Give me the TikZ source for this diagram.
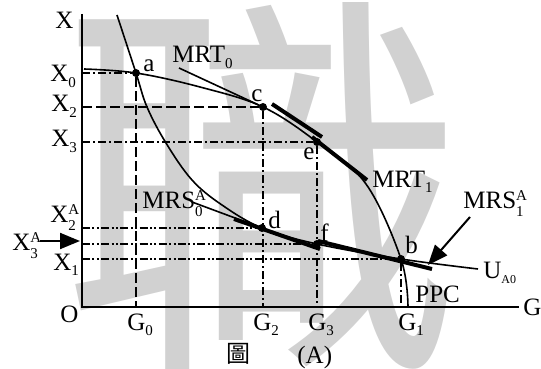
\documentclass[tikz,border=0pt]{standalone}
\usepackage{fontspec}
\setmainfont{Liberation Serif}
\newfontfamily\cjkfont{Noto Sans CJK TC}
\usetikzlibrary{arrows.meta}

\newcommand{\lo}[1]{\raisebox{-2.8pt}{\fontsize{7.5}{8}\selectfont #1}}
\newcommand{\hilo}[2]{\makebox[0pt][l]{\raisebox{3.6pt}{\fontsize{7.5}{8}\selectfont #1}}\raisebox{-4pt}{\fontsize{7.5}{8}\selectfont #2}}

\begin{document}
\begin{tikzpicture}[x=0.5pt,y=-0.5pt,
  axis/.style={line width=1pt},
  curve/.style={line width=0.8pt},
  tang/.style={line width=2pt},
  longdash/.style={line width=0.8pt,dash pattern=on 5pt off 2pt},
  dashdot/.style={line width=0.8pt,dash pattern=on 4pt off 1.5pt on 1pt off 1.5pt},
  dashdotdot/.style={line width=0.8pt,dash pattern=on 4pt off 1.2pt on 1pt off 1.2pt on 1pt off 1.2pt},
  lbl/.style={inner sep=0pt,anchor=base west,font=\fontsize{12.5}{14}\selectfont},
  pt/.style={circle,fill,inner sep=0pt,minimum size=4pt},
  bigarrow/.style={line width=1pt,-{Triangle[length=10pt,width=8pt]}}]
  \useasboundingbox (0,0) rectangle (541,369);
  % watermark
  \node[text=black!18,font=\cjkfont\fontsize{200}{200}\selectfont,inner sep=0pt] (mark) at (262,186) {職};

  % axes
  \coordinate (O) at (82,307);
  \coordinate (Xtop) at (82,14);
  \coordinate (Gend) at (519,307);
  \draw[axis] (Xtop) -- (O) -- (Gend);

  % points
  \node[pt] (a) at (136,73) {};
  \node[pt] (c) at (263,107) {};
  \node[pt] (e) at (317,142) {};
  \node[pt] (d) at (262,228) {};
  \node[pt] (f) at (317,244) {};
  \node[pt] (b) at (401,259) {};

  % guide lines
  \draw[dashdot] (a -| O) -- (a);
  \draw[longdash] (a) -- (a |- O);
  \draw[longdash] (c -| O) -- (c);
  \draw[dashdot] (c) -- (c |- O);
  \draw[dashdot] (e -| O) -- (e);
  \draw[dashdot] (e) -- (e |- O);
  \draw[dashdotdot] (d -| O) -- (d);
  \draw[dashdotdot] (f -| O) -- (f);
  \draw[dashdotdot] (b -| O) -- (b);
  \draw[dashdot] (b) -- (b |- O);

  % PPC and U_A0
  \draw[curve] plot[smooth,tension=0.6] coordinates
    {(84,69) (136,73) (200,87) (263,107) (317,142) (366,184) (401,259) (408,307)};
  \draw[curve] plot[smooth,tension=0.6] coordinates
    {(117,15) (136,73) (147,107) (166,143) (192,180) (222,205) (262,228) (317,244) (401,259) (478,269)};

  % tangents
  \coordinate (mrt0tail) at (179,68);
  \coordinate (mrt0a) at (272,104);
  \coordinate (mrt0b) at (322,137);
  \coordinate (mrt1a) at (312,137);
  \coordinate (mrt1b) at (367,180);
  \coordinate (mrs0a) at (234,219);
  \coordinate (mrs0b) at (320,249);
  \coordinate (mrs1a) at (318,241);
  \coordinate (mrs1b) at (432,269);
  \coordinate (mrs0tail) at (192,202);
  \draw[curve] (mrt0tail) -- (c);
  \draw[tang] (mrt0a) -- (mrt0b);
  \draw[tang] (mrt1a) -- (mrt1b);
  \draw[tang] (mrs0a) -- (mrs0b);
  \draw[tang] (mrs1a) -- (mrs1b);
  \draw[curve] (mrs0tail) -- (d);

  % arrows
  \coordinate (x3tail) at (40,241);
  \coordinate (x3tip) at (80,241);
  \coordinate (mrs1tail) at (470,217);
  \coordinate (mrs1tip) at (428,265);
  \draw[bigarrow] (x3tail) -- (x3tip);
  \draw[bigarrow] (mrs1tail) -- (mrs1tip);

  % labels
  \node[lbl] (lX) at (55,29) {X};
  \node[lbl] (lX0) at (50,82) {X\lo{0}};
  \node[lbl] (lX2) at (51,112) {X\lo{2}};
  \node[lbl] (lX3) at (51,147) {X\lo{3}};
  \node[lbl] (lX2A) at (50,222) {X\hilo{A}{2}};
  \node[lbl] (lX3A) at (12,250) {X\hilo{A}{3}};
  \node[lbl] (lX1) at (53,270) {X\lo{1}};
  \node[lbl] (lO) at (60,322) {O};
  \node[lbl] (lG0) at (127,330) {G\lo{0}};
  \node[lbl] (lG2) at (253,330) {G\lo{2}};
  \node[lbl] (lG3) at (308,330) {G\lo{3}};
  \node[lbl] (lG1) at (398,330) {G\lo{1}};
  \node[lbl] (lG) at (523,315) {G};
  \node[lbl] (la) at (143,72) {a};
  \node[lbl] (lc) at (251,102) {c};
  \node[lbl] (le) at (303,160) {e};
  \node[lbl] (ld) at (268,228) {d};
  \node[lbl] (lf) at (320,242) {f};
  \node[lbl] (lb) at (405,253) {b};
  \node[lbl] (lMRT0) at (172,63) {MRT\lo{0}};
  \node[lbl] (lMRT1) at (372,187) {MRT\lo{1}};
  \node[lbl] (lMRS0) at (142,208) {MRS\hilo{A}{0}};
  \node[lbl] (lMRS1) at (463,208) {MRS\hilo{A}{1}};
  \node[lbl] (lU) at (483,278) {U\lo{\fontsize{6}{6}\selectfont A0}};
  \node[lbl] (lPPC) at (415,302) {PPC};
  \node[font=\cjkfont\fontsize{12}{12}\selectfont,inner sep=0pt] (fig) at (238,354) {圖};
  \node[lbl] (figA) at (297,363) {(A)};
\end{tikzpicture}
\end{document}
